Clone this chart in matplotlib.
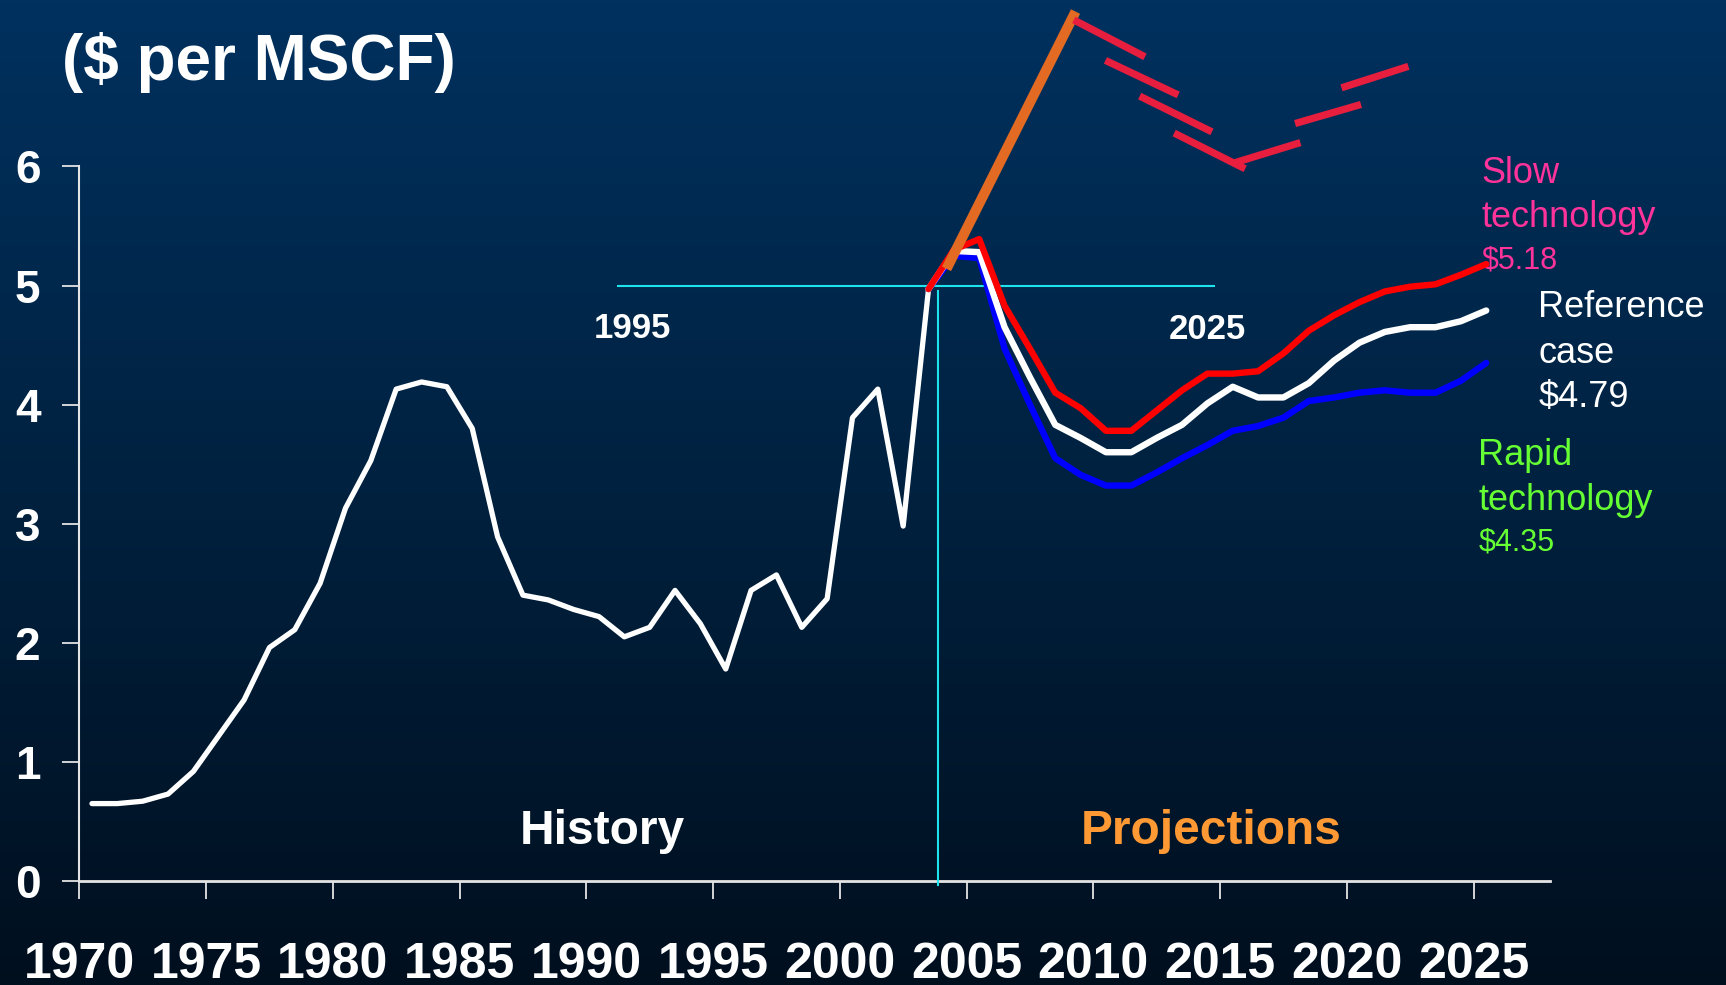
import numpy as np
import matplotlib
matplotlib.use("Agg")
import matplotlib.pyplot as plt
from matplotlib.colors import LinearSegmentedColormap
from matplotlib.collections import LineCollection

# ---------------- data ----------------
hist_years = list(range(1970, 2004))
hist_price = [0.65, 0.65, 0.67, 0.73, 0.92, 1.22, 1.52, 1.96, 2.11, 2.50,
              3.13, 3.53, 4.13, 4.19, 4.15, 3.80, 2.89, 2.40, 2.36, 2.28,
              2.22, 2.05, 2.13, 2.44, 2.16, 1.78, 2.44, 2.57, 2.13, 2.37,
              3.89, 4.13, 2.98, 4.97]

proj_years = list(range(2003, 2026))
slow_tech = [4.97, 5.30, 5.39, 4.83, 4.47, 4.10, 3.97, 3.78, 3.78, 3.95,
             4.12, 4.26, 4.26, 4.28, 4.43, 4.62, 4.75, 4.86, 4.95, 4.99,
             5.01, 5.09, 5.18]
reference = [4.97, 5.29, 5.28, 4.65, 4.23, 3.83, 3.72, 3.60, 3.60, 3.72,
             3.83, 4.01, 4.15, 4.06, 4.06, 4.18, 4.37, 4.52, 4.61, 4.65,
             4.65, 4.70, 4.79]
rapid_tech = [4.97, 5.25, 5.23, 4.47, 4.00, 3.55, 3.41, 3.32, 3.32, 3.43,
              3.55, 3.66, 3.78, 3.82, 3.89, 4.03, 4.06, 4.10, 4.12, 4.10,
              4.10, 4.20, 4.35]

# hand-drawn annotation strokes (years, $ per MSCF)
orange_x = [2004.21, 2009.3]
orange_y = [5.14, 7.30]
dash_x0 = [2009.23, 2010.48, 2011.83, 2013.19, 2015.57, 2017.96, 2019.79]
dash_y0 = [7.23, 6.89, 6.59, 6.28, 6.03, 6.36, 6.66]
dash_x1 = [2012.04, 2013.35, 2014.68, 2015.99, 2018.17, 2020.56, 2022.43]
dash_y1 = [6.92, 6.60, 6.29, 5.98, 6.20, 6.52, 6.84]

window_years = [1991.25, 2014.75]   # cyan horizontal marker
window_level = 5.0
split_year = 2003.87                # cyan vertical marker

x_ticks = list(range(1970, 2026, 5))
y_ticks = list(range(0, 7))

# ---------------- figure ----------------
W_PX, H_PX = 1726, 985
fig = plt.figure(figsize=(W_PX / 100, H_PX / 100), dpi=100)

# background gradient
bg = fig.add_axes([0, 0, 1, 1], zorder=-10)
cmap = LinearSegmentedColormap.from_list("bg", ["#000F1E", "#00213F", "#00315F"])
grad = np.linspace(0, 1, 256).reshape(-1, 1)
bg.imshow(grad, aspect="auto", cmap=cmap, origin="lower", extent=[0, 1, 0, 1])
bg.axis("off")

FONT = "Liberation Sans"
plt.rcParams["font.family"] = [FONT, "DejaVu Sans"]

x0_px, y0_px, xr_px = 79.3, 881.0, 1550.0
px_per_year = 25.35
px_per_unit = 119.1
ax = fig.add_axes([x0_px / W_PX, 1 - y0_px / H_PX,
                   (xr_px - x0_px) / W_PX, y0_px / H_PX])
ax.set_facecolor("none")
ax.set_xlim(1970, 1970 + (xr_px - x0_px) / px_per_year)
ax.set_ylim(0, y0_px / px_per_unit)

for s in ["top", "right"]:
    ax.spines[s].set_visible(False)
axis_col = "#E4E4E4"
ax.spines["left"].set_bounds(0, 6)
ax.spines["left"].set_color(axis_col)
ax.spines["bottom"].set_color(axis_col)
ax.spines["left"].set_linewidth(1.5)
ax.spines["bottom"].set_linewidth(2.0)

ax.set_xticks(x_ticks)
ax.set_yticks(y_ticks)
ax.tick_params(axis="y", length=12, width=1.3, color=axis_col, pad=16,
               labelsize=33, labelcolor="white")
ax.tick_params(axis="x", length=13, width=1.3, color=axis_col, pad=31,
               labelsize=36, labelcolor="white")
for lab in ax.get_xticklabels() + ax.get_yticklabels():
    lab.set_fontweight("bold")

# plotted at category centres
off = 0.5
hx = [y + off for y in hist_years]
px = [y + off for y in proj_years]

ax.plot(hx, hist_price, color="white", lw=3.8, zorder=5, solid_capstyle="round")
ax.plot(px, rapid_tech, color="#0000FF", lw=4.6, zorder=5, solid_capstyle="round")
ax.plot(px, reference, color="white", lw=4.6, zorder=6, solid_capstyle="round")
ax.plot(px, slow_tech, color="#FF0000", lw=4.6, zorder=7, solid_capstyle="round")

# cyan markers
cyan = "#1FE3EC"
ax.plot(window_years, [window_level] * 2, color=cyan, lw=1.5, zorder=4)
ax.plot([split_year, split_year], [-0.03, 4.95], color=cyan, lw=1.5, zorder=4,
        clip_on=False)

# orange stroke and red dashes
ax.plot(orange_x, orange_y, color="#E26A22", lw=7.3, zorder=9,
        solid_capstyle="butt", clip_on=False)
segs = [[(a, b), (c, d)] for a, b, c, d in zip(dash_x0, dash_y0, dash_x1, dash_y1)]
ax.add_collection(LineCollection(segs, colors="#E81E3F", linewidths=5.2,
                                 capstyle="butt", zorder=10, clip_on=False))

# text annotations
ax.text(1991.83, 4.557, "1995", color="white", fontsize=25, fontweight="bold",
        ha="center", va="baseline")
ax.text(2014.51, 4.548, "2025", color="white", fontsize=25, fontweight="bold",
        ha="center", va="baseline")
ax.text(1990.63, 0.31, "History", color="white", fontsize=34.5,
        fontweight="bold", ha="center", va="baseline")
ax.text(2014.65, 0.31, "Projections", color="#FF9933", fontsize=34.5,
        fontweight="bold", ha="center", va="baseline")

pink = "#FF3399"
green = "#66FF33"
ax.text(2025.32, 5.858, "Slow", color=pink, fontsize=26, va="baseline", ha="left")
ax.text(2025.32, 5.494, "technology", color=pink, fontsize=26, va="baseline", ha="left")
ax.text(2025.32, 5.144, "$5.18", color=pink, fontsize=22, va="baseline", ha="left")
ax.text(2027.55, 4.738, "Reference", color="white", fontsize=26, va="baseline", ha="left")
ax.text(2027.55, 4.352, "case", color="white", fontsize=26, va="baseline", ha="left")
ax.text(2027.55, 3.982, "$4.79", color="white", fontsize=26, va="baseline", ha="left")
ax.text(2025.19, 3.493, "Rapid", color=green, fontsize=26, va="baseline", ha="left")
ax.text(2025.19, 3.115, "technology", color=green, fontsize=26, va="baseline", ha="left")
ax.text(2025.19, 2.779, "$4.35", color=green, fontsize=22, va="baseline", ha="left")

fig.text(61.7 / W_PX, 1 - 80 / H_PX, "($ per MSCF)", color="white", fontsize=46,
         fontweight="bold", ha="left", va="baseline")

fig.savefig("out.png", dpi=100)
